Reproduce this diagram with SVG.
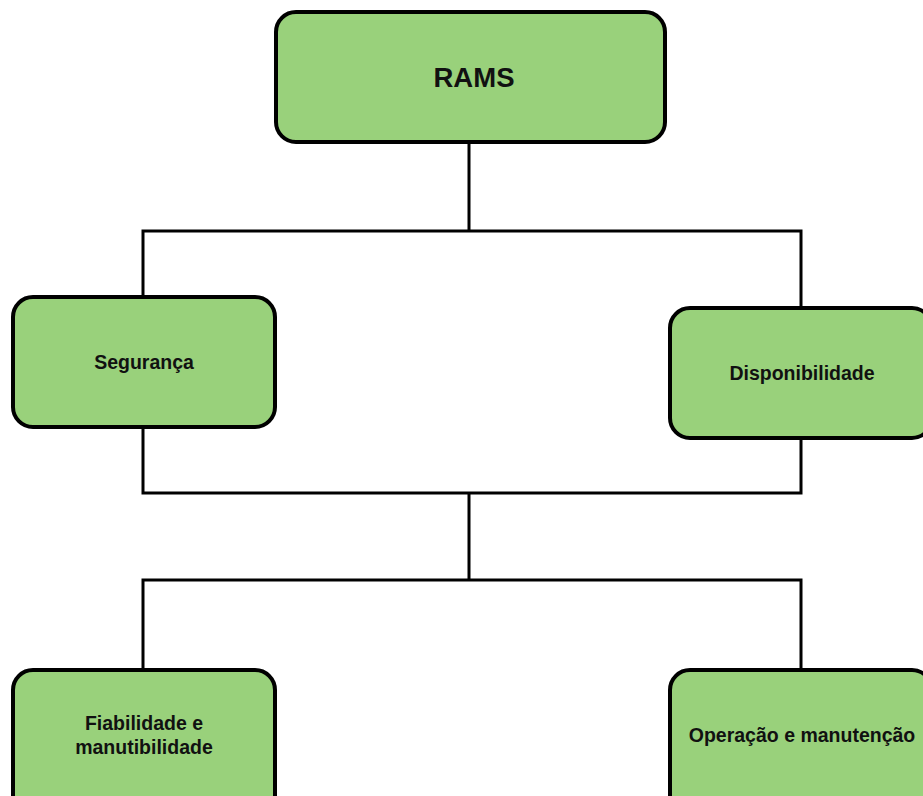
<svg xmlns="http://www.w3.org/2000/svg" width="923" height="796" viewBox="0 0 923 796">
  <style>
    .box { fill: #99d17b; stroke: #000; stroke-width: 4; }
    .lbl { font-family: "Liberation Sans", Arial, sans-serif; font-weight: bold; font-size: 19.5px; fill: #111; text-anchor: middle; }
    .wire { fill: none; stroke: #000; stroke-width: 3; }
  </style>
  <rect width="923" height="796" fill="#fff"/>

  <!-- tree connectors -->
  <g id="connectors" class="wire">
    <path d="M469 143 V231 M143 295 V231 H801 V306"/>
    <path d="M143 428 V493 H801 V439 M469 493 V580"/>
    <path d="M143 668 V580 H801 V668"/>
  </g>

  <g id="rams">
    <rect class="box" x="276" y="12" width="389" height="130" rx="20"/>
    <text class="lbl" x="474" y="87" style="font-size:27.5px">RAMS</text>
  </g>

  <g id="seguranca">
    <rect class="box" x="13" y="297" width="262" height="130" rx="20"/>
    <text class="lbl" x="144" y="369">Segurança</text>
  </g>

  <g id="disponibilidade">
    <rect class="box" x="670" y="308" width="262" height="130" rx="20"/>
    <text class="lbl" x="802" y="380">Disponibilidade</text>
  </g>

  <g id="fiabilidade">
    <rect class="box" x="13" y="670" width="262" height="150" rx="20"/>
    <text class="lbl" x="144" y="730">Fiabilidade e</text>
    <text class="lbl" x="144" y="754">manutibilidade</text>
  </g>

  <g id="operacao">
    <rect class="box" x="670" y="670" width="262" height="150" rx="20"/>
    <text class="lbl" x="802" y="742">Operação e manutenção</text>
  </g>
</svg>
